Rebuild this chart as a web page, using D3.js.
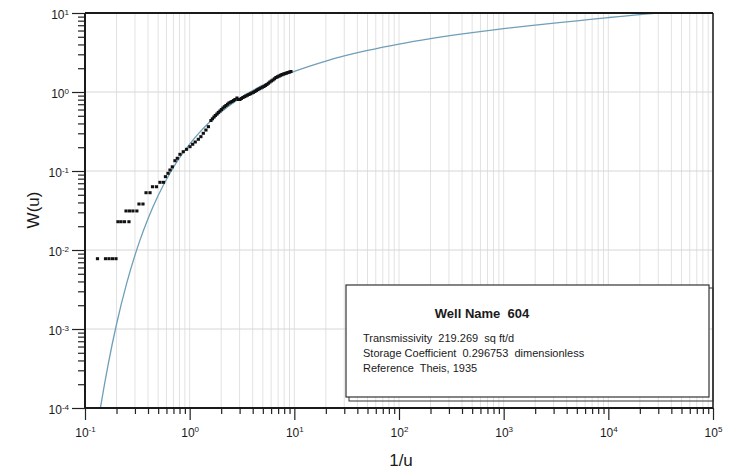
<!DOCTYPE html>
<html>
<head>
<meta charset="utf-8">
<script src="https://cdn.jsdelivr.net/npm/d3@7"></script>
<style>
  body { margin: 0; background: #fff; }
  text { font-family: "Liberation Sans", Arial, sans-serif; fill: #1a1a1a; white-space: pre; }
</style>
</head>
<body>
<svg width="735" height="474"></svg>
<script>
// decades shown on each axis
var xDecades = [-1, 0, 1, 2, 3, 4, 5];
var yDecades = [-4, -3, -2, -1, 0, 1];

// Theis type curve, W(u) against 1/u
var curveInvU = [0.1, 0.125, 0.1429, 0.1667, 0.2, 0.25, 0.3333, 0.4, 0.5, 0.6667, 0.8333, 1, 1.25, 1.4286,
  1.6667, 2, 2.5, 3.333, 5, 6.667, 10, 20, 50, 100, 200, 500, 1000, 2000, 5000, 10000, 20000, 50000, 100000];
var curveW = [4.16e-6, 3.77e-5, 1.155e-4, 3.6e-4, 1.148e-3, 3.78e-3, 1.305e-2, 2.49e-2, 4.89e-2, 0.1, 0.1584, 0.2194,
  0.3106, 0.3738, 0.4544, 0.5598, 0.7024, 0.9057, 1.2227, 1.4645, 1.8229, 2.4679, 3.3547, 4.0379, 4.7261, 5.6394,
  6.3315, 7.0242, 7.9402, 8.75, 9.55, 10.4, 11.1];

// observed points, matched to the curve
var obsInvU = [0.1316, 0.157, 0.1694, 0.183, 0.1977,
  0.2065, 0.2208, 0.2385, 0.263,
  0.2466, 0.266, 0.287, 0.313,
  0.328, 0.358,
  0.383, 0.418,
  0.4416, 0.482,
  0.520, 0.562,
  0.587, 0.621, 0.649, 0.683, 0.724, 0.762, 0.808, 0.869, 0.934, 1.007, 1.068, 1.13, 1.21, 1.28, 1.35, 1.43, 1.51,
  1.597, 1.65, 1.707, 1.76, 1.822, 1.88, 1.947, 2.01, 2.080, 2.15, 2.222, 2.30, 2.374, 2.45, 2.535, 2.62, 2.709,
  2.831, 2.925, 3.023, 3.12, 3.229, 3.34, 3.449, 3.56, 3.685, 3.81, 3.936, 4.07, 4.205, 4.35, 4.491, 4.64, 4.797,
  4.96, 5.124, 5.30, 5.474, 5.66, 5.847, 6.04, 6.246, 6.45, 6.672, 6.90, 7.127, 7.37, 7.613, 7.87, 8.131, 8.40,
  8.686, 8.98, 9.280];
var obsW = [0.00776, 0.00776, 0.00776, 0.00776, 0.00776,
  0.0228, 0.0228, 0.0228, 0.0228,
  0.0312, 0.0312, 0.0312, 0.0312,
  0.0382, 0.0382,
  0.0531, 0.0531,
  0.0632, 0.0632,
  0.0719, 0.0719,
  0.0848, 0.0935, 0.103, 0.113, 0.135, 0.145, 0.1626, 0.1755, 0.188, 0.203, 0.218, 0.233, 0.252, 0.272, 0.300, 0.330, 0.364,
  0.4356, 0.458, 0.4826, 0.505, 0.5268, 0.552, 0.5748, 0.60, 0.6273, 0.652, 0.6746, 0.70, 0.7256, 0.742, 0.7581, 0.78,
  0.8038, 0.8396, 0.8038, 0.8038, 0.828, 0.8519, 0.872, 0.8901, 0.91, 0.9298, 0.95, 0.9712, 0.99, 1.015, 1.045,
  1.075, 1.10, 1.124, 1.15, 1.174, 1.21, 1.244, 1.29, 1.339, 1.38, 1.419, 1.47, 1.526, 1.56, 1.594, 1.63, 1.665,
  1.69, 1.714, 1.74, 1.766, 1.79, 1.818];

var legendTitle = "Well Name  604";
var legendLines = [
  "Transmissivity  219.269  sq ft/d",
  "Storage Coefficient  0.296753  dimensionless",
  "Reference  Theis, 1935"
];

var svg = d3.select("svg"),
    margin = {top: 13, right: 22, bottom: 66, left: 85},
    width = 735 - margin.left - margin.right,
    height = 474 - margin.top - margin.bottom,
    g = svg.append("g").attr("transform", "translate(" + margin.left + "," + margin.top + ")");

var x = d3.scaleLog().domain([1e-1, 1e5]).range([0, width]),
    y = d3.scaleLog().domain([1e-4, 1e1]).range([height, 0]);

var xMajor = xDecades.map(function(d) { return Math.pow(10, d); }),
    yMajor = yDecades.map(function(d) { return Math.pow(10, d); });

function minors(decades) {
  var out = [];
  for (var i = 0; i < decades.length - 1; i++)
    for (var k = 2; k <= 9; k++) out.push(k * Math.pow(10, decades[i]));
  return out;
}
var xMinor = minors(xDecades), yMinor = minors(yDecades);

// grid (faint, like the scanned sheet)
g.append("g").selectAll("line")
  .data(xMinor.concat(xMajor))
  .enter().append("line")
    .attr("x1", function(d) { return x(d); }).attr("x2", function(d) { return x(d); })
    .attr("y1", 0).attr("y2", height)
    .attr("stroke", "#e2e2e2").attr("stroke-width", 1);
g.append("g").selectAll("line")
  .data(yMajor)
  .enter().append("line")
    .attr("x1", 0).attr("x2", width)
    .attr("y1", function(d) { return y(d); }).attr("y2", function(d) { return y(d); })
    .attr("stroke", "#d6d6d6").attr("stroke-width", 1);

// type curve
var line = d3.line()
    .x(function(d) { return x(d[0]); })
    .y(function(d) { return y(d[1]); });

g.append("clipPath").attr("id", "clip")
  .append("rect").attr("width", width).attr("height", height);

g.append("path")
    .datum(curveInvU.map(function(v, i) { return [v, curveW[i]]; }))
    .attr("clip-path", "url(#clip)")
    .attr("fill", "none")
    .attr("stroke", "#6f9fb8")
    .attr("stroke-width", 1.3)
    .attr("d", line.curve(d3.curveMonotoneX));

// observations
g.append("g").selectAll("rect")
  .data(obsInvU.map(function(v, i) { return [v, obsW[i]]; }))
  .enter().append("rect")
    .attr("x", function(d) { return x(d[0]) - 1.6; })
    .attr("y", function(d) { return y(d[1]) - 1.5; })
    .attr("width", 3.2).attr("height", 3)
    .attr("fill", "#111");

// axes
function sup(sel) {
  sel.selectAll(".tick text").each(function(d) {
    var t = d3.select(this).text("10");
    t.append("tspan").attr("dy", "-0.55em").attr("font-size", "8px").text(Math.round(Math.log10(d)));
  });
}

var xAxis = g.append("g").attr("transform", "translate(0," + height + ")");
xAxis.append("g").call(d3.axisBottom(x).tickValues(xMinor).tickSize(6).tickFormat(""));
xAxis.append("g").call(d3.axisBottom(x).tickValues(xMajor).tickSize(12).tickPadding(8))
    .call(sup);

var yAxis = g.append("g");
yAxis.append("g").call(d3.axisLeft(y).tickValues(yMinor).tickSize(7).tickFormat(""));
yAxis.append("g").call(d3.axisLeft(y).tickValues(yMajor).tickSize(13).tickPadding(3))
    .call(sup);

svg.selectAll(".domain").remove();
svg.selectAll(".tick line").attr("stroke", "#222").attr("stroke-width", 1.2);
svg.selectAll(".tick text").attr("font-size", "12px").attr("fill", "#222")
    .attr("font-family", "'Liberation Sans', Arial, sans-serif");
yAxis.selectAll(".tick text").attr("dy", "0.45em");

// frame
g.append("line").attr("x1", 0).attr("x2", 0).attr("y1", 0).attr("y2", height).attr("stroke", "#1a1a1a").attr("stroke-width", 2);
g.append("line").attr("x1", 0).attr("x2", width).attr("y1", height).attr("y2", height).attr("stroke", "#1a1a1a").attr("stroke-width", 2);
g.append("line").attr("x1", 0).attr("x2", width).attr("y1", 0).attr("y2", 0).attr("stroke", "#1a1a1a").attr("stroke-width", 2);
g.append("line").attr("x1", width).attr("x2", width).attr("y1", 0).attr("y2", height).attr("stroke", "#1a1a1a").attr("stroke-width", 1.5);

// axis titles
svg.append("text")
    .attr("x", 401).attr("y", 466)
    .attr("text-anchor", "middle").attr("font-size", "17px")
    .text("1/u");
svg.append("text")
    .attr("transform", "translate(39," + (margin.top + 197) + ") rotate(-90)")
    .attr("text-anchor", "middle").attr("font-size", "17px")
    .text("W(u)");

// legend box
var lg = svg.append("g").attr("transform", "translate(346,285)");
lg.append("rect").attr("x", 3).attr("y", 3).attr("width", 364).attr("height", 113)
    .attr("fill", "none").attr("stroke", "#333").attr("stroke-width", 1);
lg.append("rect").attr("width", 363).attr("height", 112)
    .attr("fill", "#fff").attr("stroke", "#333").attr("stroke-width", 1.2);
lg.append("text").attr("x", 136).attr("y", 33)
    .attr("text-anchor", "middle").attr("font-size", "13px").attr("font-weight", "bold")
    .text(legendTitle);
lg.selectAll(".ln")
  .data(legendLines)
  .enter().append("text")
    .attr("class", "ln")
    .attr("x", 17).attr("y", function(d, i) { return 57 + i * 15; })
    .attr("font-size", "11px")
    .text(function(d) { return d; });
</script>
</body>
</html>
